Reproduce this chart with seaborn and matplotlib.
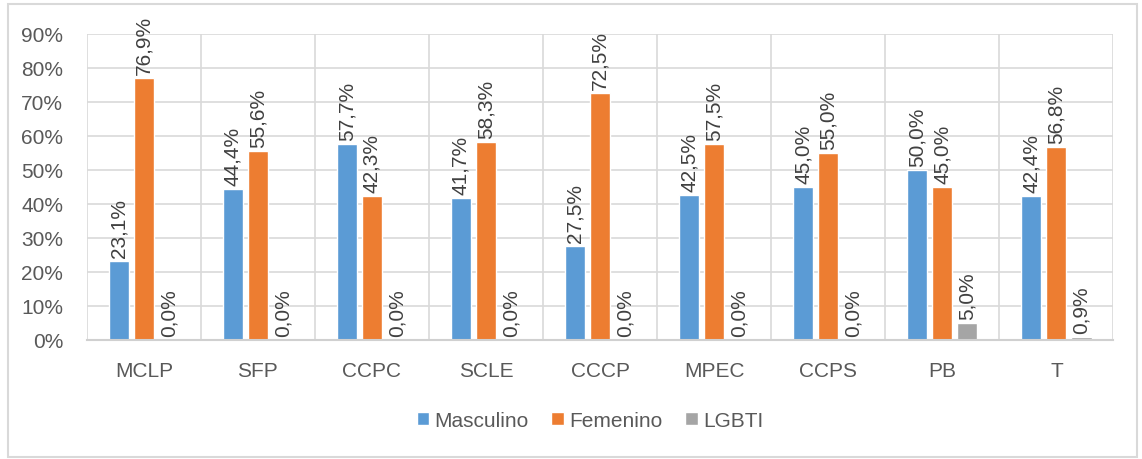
import numpy as np
import pandas as pd
import matplotlib
matplotlib.use('Agg')
import matplotlib.pyplot as plt
import seaborn as sns
from matplotlib.patches import Rectangle

# dados (percentuais)
categorias = ['MCLP', 'SFP', 'CCPC', 'SCLE', 'CCCP', 'MPEC', 'CCPS', 'PB', 'T']
masculino = [23.1, 44.4, 57.7, 41.7, 27.5, 42.5, 45.0, 50.0, 42.4]
femenino = [76.9, 55.6, 42.3, 58.3, 72.5, 57.5, 55.0, 45.0, 56.8]
lgbti = [0.0, 0.0, 0.0, 0.0, 0.0, 0.0, 0.0, 5.0, 0.9]
series = ['Masculino', 'Femenino', 'LGBTI']
cores = ['#5B9BD5', '#ED7D31', '#A5A5A5']

df = pd.DataFrame({'categoria': categorias * 3,
                   'grupo': np.repeat(series, len(categorias)),
                   'valor': masculino + femenino + lgbti})
df['valor'] = df['valor'] / 100

sns.set_style('white')
plt.rcParams['font.family'] = ['Liberation Sans', 'DejaVu Sans']

fig = plt.figure(figsize=(11.42, 4.6), dpi=100)
ax = fig.add_axes([0.076, 0.259, 0.899, 0.665])

sns.barplot(data=df, x='categoria', y='valor', hue='grupo', order=categorias,
            hue_order=series, palette=cores, width=0.66, gap=0.2,
            saturation=1, ax=ax, legend=True)

# rótulos dos valores
for cont in ax.containers:
    for barra in cont:
        h = barra.get_height()
        ax.annotate(f'{h*100:.1f}%'.replace('.', ','),
                    (barra.get_x() + barra.get_width() / 2, h),
                    xytext=(0, 3), textcoords='offset points',
                    rotation=90, ha='center', va='bottom',
                    fontsize=15, color='#404040')

ax.set_ylim(0, 0.9)
ax.set_xlim(-0.5, len(categorias) - 0.5)
ax.set_yticks(np.arange(0, 0.91, 0.1))
ax.set_yticklabels([f'{int(round(v*100))}%' for v in np.arange(0, 0.91, 0.1)])
ax.set_xlabel('')
ax.set_ylabel('')

ax.grid(axis='y', color='#D9D9D9', linewidth=1.2)
for xv in np.arange(-0.5, len(categorias), 1):
    ax.axvline(xv, color='#D9D9D9', linewidth=1.2, zorder=0)
ax.set_axisbelow(True)
for s in ['top', 'right', 'left']:
    ax.spines[s].set_visible(False)
ax.spines['bottom'].set_color('#D0D0D0')
ax.spines['bottom'].set_linewidth(1.5)

ax.tick_params(axis='both', length=0, labelsize=15, labelcolor='#595959')
ax.tick_params(axis='x', pad=15)
ax.tick_params(axis='y', pad=17)

ax.legend(loc='upper center', bbox_to_anchor=(0.49, -0.17), ncol=3,
          frameon=False, fontsize=15, handlelength=0.6, handleheight=0.6,
          handletextpad=0.25, columnspacing=1.1, labelcolor='#595959')

# moldura do gráfico
fig.patches.append(Rectangle((8 / 1142, 2 / 460), 1129 / 1142, 453 / 460,
                             transform=fig.transFigure, fill=False,
                             edgecolor='#D9D9D9', linewidth=1.5))

fig.savefig('out.png', dpi=100)
